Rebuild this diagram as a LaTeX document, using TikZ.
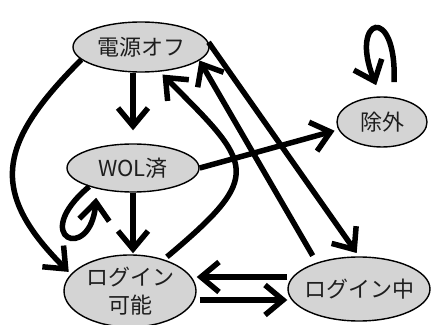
\documentclass[tikz,border=0pt]{standalone}
\usepackage{fontspec}
\setmainfont{Noto Sans CJK JP}
\usetikzlibrary{arrows.meta,shapes.geometric}
\definecolor{lightfill}{RGB}{212,212,212}
\definecolor{txtcol}{RGB}{30,30,30}
\begin{document}
\begin{tikzpicture}[x=1pt,y=1pt,
  state/.style={ellipse, draw=black, line width=1.4pt, fill=lightfill, inner sep=0pt},
  txt/.style={font=\fontsize{22}{28}\selectfont, text=txtcol, align=center},
  arr/.style={line width=5.5pt, -{Straight Barb[length=18pt,width=30pt]}}]
\useasboundingbox (0,0) rectangle (433,324);
\node[state, minimum width=136pt, minimum height=50pt, label={[txt]center:電源オフ}] (off) at (141,277) {};
\node[state, minimum width=132pt, minimum height=48pt, label={[txt]center:WOL済}] (wol) at (133,156) {};
\node[state, minimum width=90pt, minimum height=50pt, label={[txt]center:除外}] (exc) at (382,202) {};
\node[state, minimum width=132pt, minimum height=72pt, label={[txt]center:{ログイン\\可能}}] (log) at (130,33) {};
\node[state, minimum width=142pt, minimum height=64pt, label={[txt]center:ログイン中}] (lin) at (359,35) {};
% off -> wol
\draw[arr, shorten >=13pt] (wol.north |- off.south) -- (wol.north);
% wol -> log
\draw[arr, shorten >=1pt] (wol.south) -- (wol.south |- log.north);
% off -> log (curve)
\draw[arr, shorten >=3pt] (off.192) to[out=225,in=135,looseness=1.4] (log.164);
% log -> off (curve)
\draw[arr, shorten >=4pt, shorten <=4pt] (log.43) to[out=40,in=-45,looseness=1.8] (off.-53);
% off -> lin
\draw[arr, shorten >=4pt] (off.4) -- (lin.north);
% lin -> off
\draw[arr, shorten <=8pt] (lin.148) -- (off.-13);
% wol -> exc
\draw[arr, shorten >=4pt] (wol.east) -- (exc.190);
% wol self loop
\draw[arr, shorten >=9pt] (wol.203) .. controls +(220:80) and +(265:75) .. (wol.210);
% exc self loop
\draw[arr, shorten <=15pt, shorten >=12pt] (exc.65) .. controls +(88:95) and +(112:85) .. (exc.93);
% lin -> log
\draw[arr] ([yshift=12pt]lin.west) -- ([yshift=14pt]log.east);
% log -> lin
\draw[arr, shorten <=3pt] ([yshift=-9pt]log.east) -- ([yshift=-11pt]lin.west);
\end{tikzpicture}
\end{document}
